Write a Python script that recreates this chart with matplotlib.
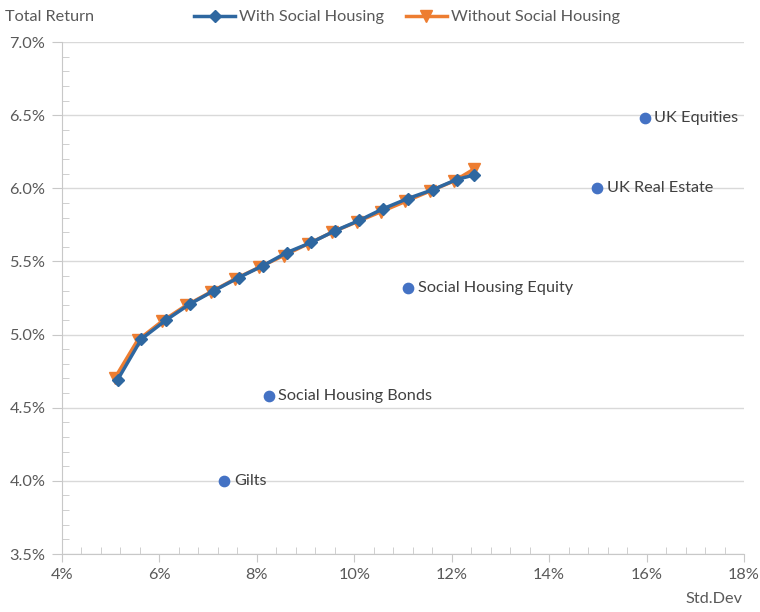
import numpy as np
import matplotlib.pyplot as plt
from matplotlib.ticker import MultipleLocator, FuncFormatter

plt.rcParams['font.family'] = ['Lato', 'DejaVu Sans']

# efficient frontier, std dev (%) and total return (%)
with_x = [5.14, 5.63, 6.14, 6.63, 7.12, 7.63, 8.12, 8.61, 9.12, 9.61, 10.10, 10.59, 11.10, 11.61, 12.10, 12.45]
with_y = [4.69, 4.97, 5.10, 5.21, 5.30, 5.39, 5.47, 5.56, 5.63, 5.71, 5.78, 5.86, 5.93, 5.99, 6.06, 6.09]
without_x = [5.08, 5.55, 6.05, 6.55, 7.05, 7.55, 8.05, 8.55, 9.05, 9.55, 10.05, 10.55, 11.05, 11.55, 12.05, 12.45]
without_y = [4.70, 4.96, 5.09, 5.20, 5.29, 5.38, 5.46, 5.54, 5.62, 5.70, 5.77, 5.84, 5.91, 5.98, 6.05, 6.13]

assets = ['Gilts', 'Social Housing Bonds', 'Social Housing Equity', 'UK Real Estate', 'UK Equities']
asset_x = [7.33, 8.24, 11.10, 14.98, 15.96]
asset_y = [4.00, 4.58, 5.32, 6.00, 6.48]

grey = '#595959'
fs = 11.7
fig = plt.figure(figsize=(7.6, 6.12), dpi=100)
ax = fig.add_axes([62/760, 1-554/612, 682/760, 512/612])

ax.plot(without_x, without_y, color='#ED7D31', lw=2.5, marker='v', ms=8, label='Without Social Housing', zorder=3)
ax.plot(with_x, with_y, color='#2E67A0', lw=2.5, marker='D', ms=6, label='With Social Housing', zorder=4)
ax.scatter(asset_x, asset_y, s=55, color='#4472C4', zorder=5)
for n, x, y in zip(assets, asset_x, asset_y):
    ax.annotate(n, (x, y), xytext=(7, 0), textcoords='offset points', va='center',
                fontsize=fs, color='#404040')

ax.set_xlim(4, 18)
ax.set_ylim(3.5, 7.0)
ax.xaxis.set_major_locator(MultipleLocator(2))
ax.xaxis.set_minor_locator(MultipleLocator(0.4))
ax.yaxis.set_major_locator(MultipleLocator(0.5))
ax.yaxis.set_minor_locator(MultipleLocator(0.1))
ax.xaxis.set_major_formatter(FuncFormatter(lambda v, p: '%d%%' % round(v)))
ax.yaxis.set_major_formatter(FuncFormatter(lambda v, p: '%.1f%%' % v))
ax.grid(axis='y', color='#D9D9D9', lw=1)
ax.set_axisbelow(True)
for s in ['top', 'right']:
    ax.spines[s].set_visible(False)
for s in ['left', 'bottom']:
    ax.spines[s].set_color('#C8C8C8')
tc = '#C8C8C8'
ax.tick_params(axis='x', which='major', direction='out', length=6, color=tc,
               labelsize=fs, labelcolor=grey, pad=4)
ax.tick_params(axis='x', which='minor', direction='in', length=5, color=tc)
ax.tick_params(axis='y', which='major', direction='out', length=7, color=tc,
               labelsize=fs, labelcolor=grey, pad=5)
ax.tick_params(axis='y', which='minor', direction='in', length=5, color=tc)

fig.text(5/760, 1-17/612, 'Total Return', fontsize=fs, color=grey, va='center')
fig.text(742/760, 1-599/612, 'Std.Dev', fontsize=fs, color=grey, va='center', ha='right')

h, l = ax.get_legend_handles_labels()
fig.legend(h[::-1], l[::-1], loc='center', bbox_to_anchor=(407/760, 1-17/612), ncol=2,
           frameon=False, fontsize=fs, labelcolor=grey, handlelength=2.5,
           columnspacing=1.35, handletextpad=0.25)

fig.savefig('out.png', dpi=100)
